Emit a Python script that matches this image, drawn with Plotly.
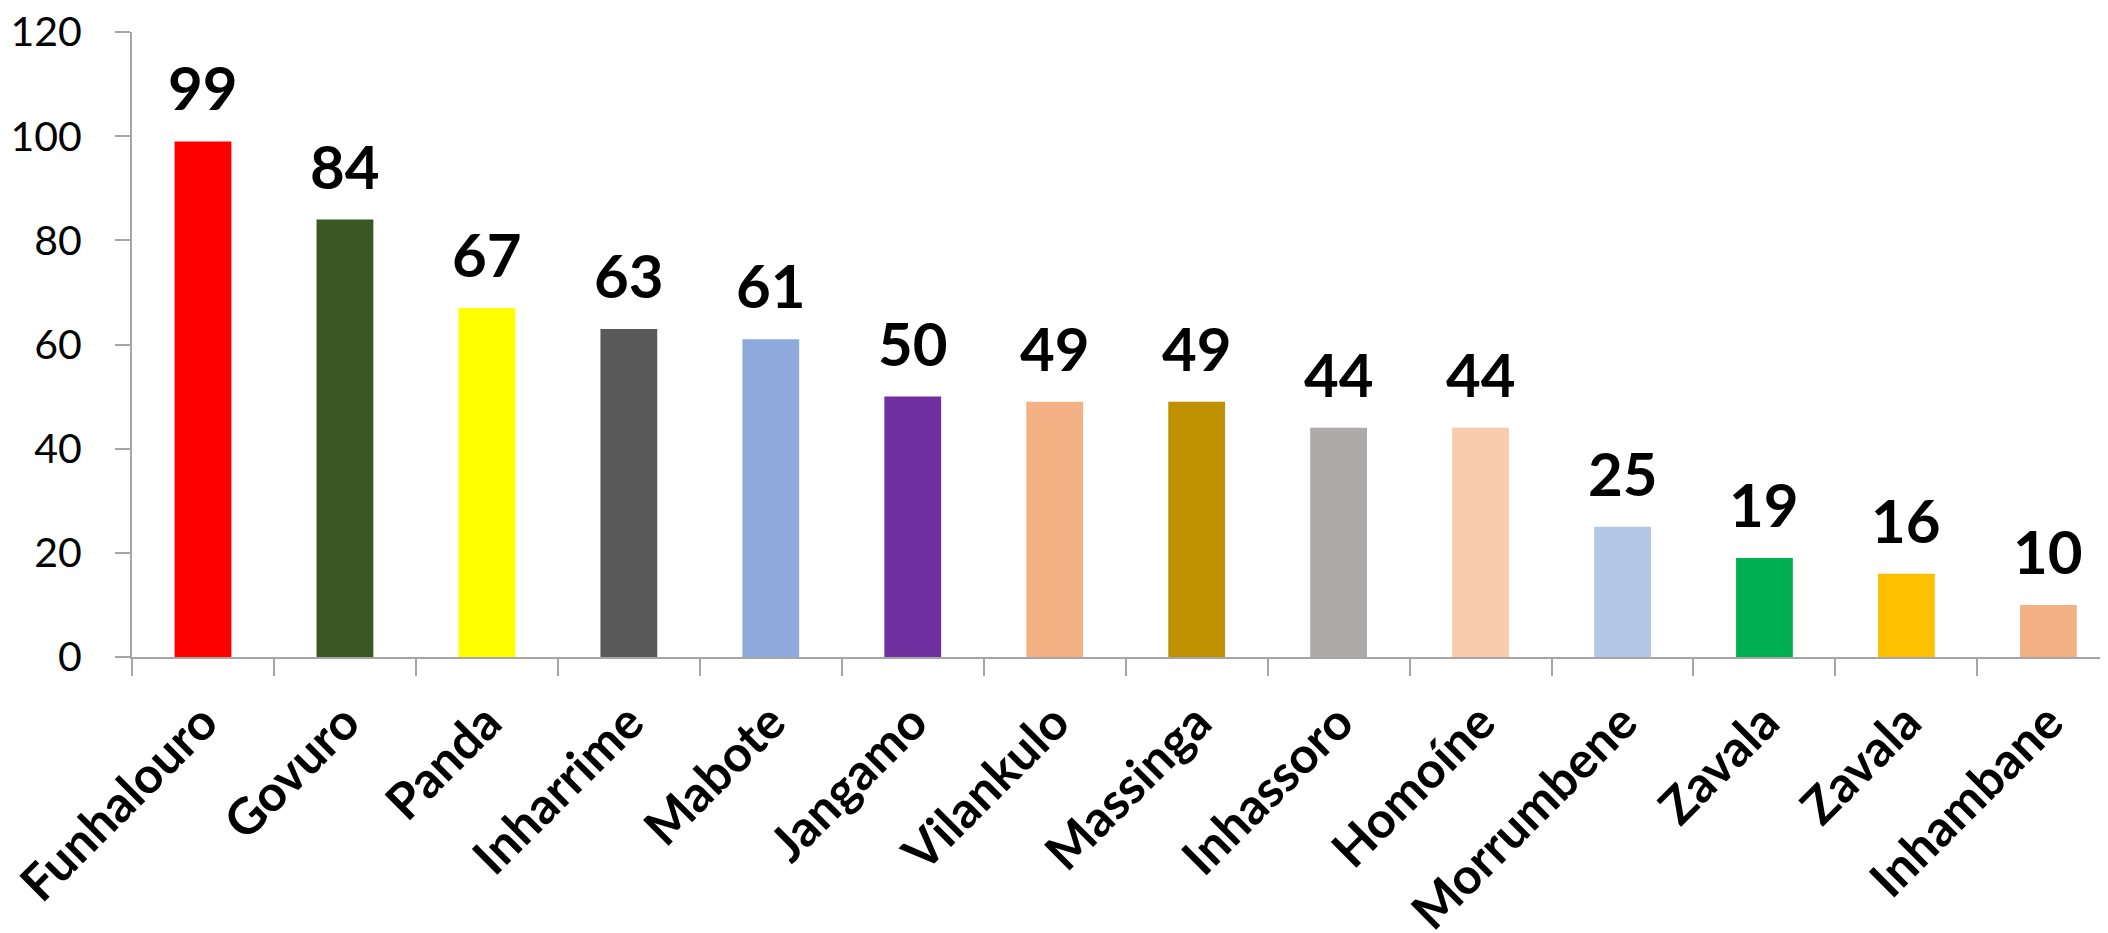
import plotly.graph_objects as go

categories = ["Funhalouro", "Govuro", "Panda", "Inharrime", "Mabote", "Jangamo",
              "Vilankulo", "Massinga", "Inhassoro", "Homoíne", "Morrumbene",
              "Zavala", "Zavala", "Inhambane"]
values = [99, 84, 67, 63, 61, 50, 49, 49, 44, 44, 25, 19, 16, 10]
colors = ["#FF0000", "#3A5724", "#FFFF00", "#595959", "#8EA9DB", "#7030A0",
          "#F4B183", "#BF9000", "#AEAAAA", "#F8CBAD", "#B4C7E7", "#00B050",
          "#FFC000", "#F4B183"]
y_ticks = [0, 20, 40, 60, 80, 100, 120]

FONT = "Lato"
xs = list(range(len(categories)))

fig = go.Figure()
fig.add_trace(go.Bar(
    x=xs, y=values, marker=dict(color=colors, line=dict(width=0)),
    width=0.4, hoverinfo="skip", showlegend=False,
))

for x, v in zip(xs, values):
    fig.add_annotation(x=x, y=v, text=f"<b>{v}</b>", showarrow=False,
                       yanchor="bottom", yshift=16,
                       font=dict(family=FONT, size=60, color="black"))

fig.update_layout(
    width=2100, height=925,
    margin=dict(l=124, r=0, t=24, b=276, autoexpand=False),
    paper_bgcolor="white", plot_bgcolor="white",
    bargap=0.6,
)
fig.update_xaxes(
    automargin=False,
    range=[-0.5, 13.42],
    tickmode="array", tickvals=xs,
    ticktext=[f"<b>{c}</b>" for c in categories],
    tickangle=-45, ticks="", ticklen=0,
    tickfont=dict(family=FONT, size=50, color="black"),
    ticklabelstandoff=14,
    ticklabeloverflow="allow",
    showline=True, linecolor="#A6A6A6", linewidth=2,
    showgrid=False, zeroline=False,
    minor=dict(tickmode="linear", tick0=-0.5, dtick=1, ticks="outside",
               ticklen=17, tickcolor="#A6A6A6", tickwidth=2, showgrid=False),
)
fig.update_yaxes(
    automargin=False,
    range=[0, 120], tickmode="array", tickvals=y_ticks,
    ticks="outside", ticklen=15, tickcolor="#A6A6A6", tickwidth=2,
    tickfont=dict(family=FONT, size=41, color="black"),
    ticklabelstandoff=25,
    ticklabeloverflow="allow",
    showline=True, linecolor="#A6A6A6", linewidth=2,
    showgrid=False, zeroline=False,
)

fig.write_html("out.html")
